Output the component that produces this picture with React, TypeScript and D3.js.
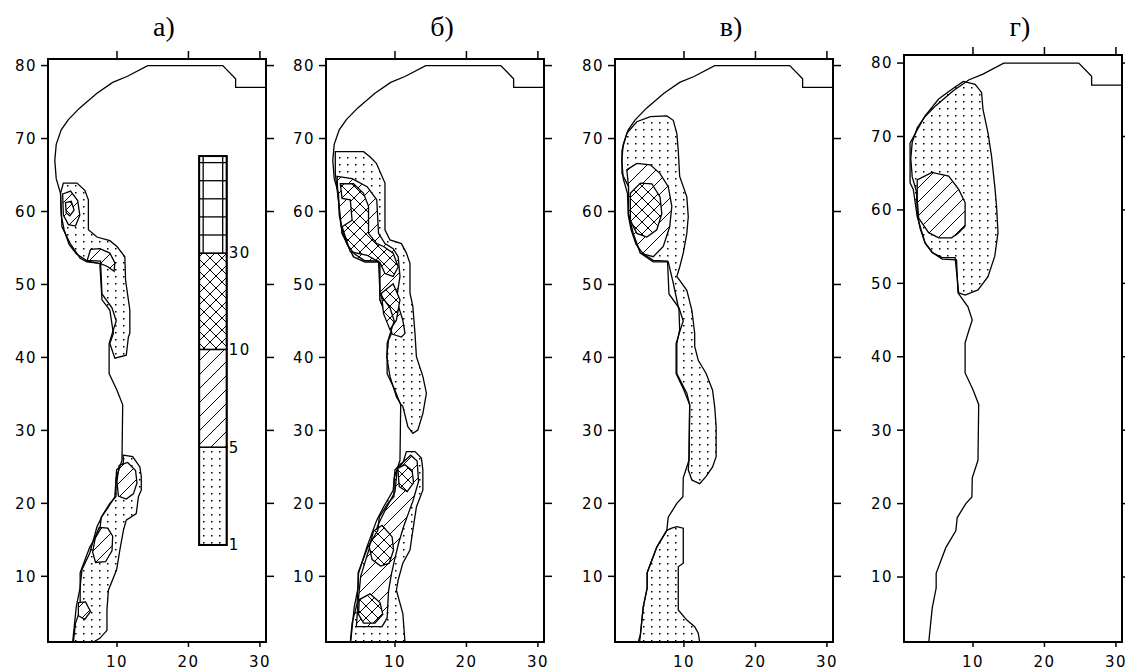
import React from "react";
import * as d3 from "d3";

type Pt = [number, number];

const X_TICKS = [10, 20, 30];
const Y_TICKS = [10, 20, 30, 40, 50, 60, 70, 80];
const PANEL_TITLES = ["а)", "б)", "в)", "г)"];
const LEGEND_LABELS = ["1", "5", "10", "30"];
const LEGEND_BOUNDS = [14.3, 27.7, 41.1, 54.3, 67.6];
const LEGEND_X: [number, number] = [21.5, 25.35];

// coastline, bottom -> top -> right edge
const COAST: Pt[] = [
  [3.8, 1], [4.3, 5.8], [4.85, 8.5], [4.85, 10.5], [6.2, 14], [7.6, 16.3], [7.8, 18.1], [9.0, 20],
  [9.85, 20.9], [9.9, 23.5], [10.7, 25.9], [10.8, 33.5], [10.0, 35.5], [8.9, 37.8], [8.9, 41.9],
  [9.4, 43.5], [9.9, 45], [9.3, 46.8], [7.9, 48.7], [7.7, 53.2], [5.7, 53.3], [4.3, 54.2], [3.3, 55.5],
  [2.6, 57.5], [2.2, 59.5], [2.1, 62.5], [1.5, 64.5], [1.3, 67], [1.5, 69.2], [2.2, 71.2], [3.2, 72.6],
  [4.8, 74.2], [7.2, 76.2], [9.4, 77.7], [11.4, 78.5], [14.3, 80], [24.8, 80], [26.6, 78.2],
  [26.6, 77], [30.85, 77],
];

// panel а
const A_DOTS: Pt[][] = [
  [[2.5, 63.9], [4.4, 63.9], [5.5, 62.9], [6.0, 61.6], [6.0, 57.5], [7.2, 56.5], [9.0, 56.0], [10.0, 55.2],
   [11.1, 53.8], [11.2, 50.6], [11.8, 46.5], [11.8, 43.3], [11.6, 42.8], [11.3, 40.3], [9.7, 39.9],
   [9.0, 41.9], [9.5, 43.3], [9.0, 46.5], [7.9, 47.9], [7.6, 52.9], [5.8, 53.1], [4.85, 53.6],
   [3.46, 55.6], [2.3, 57.9], [2.1, 62.5]],
  [[10.87, 26.6], [12.2, 26.4], [13.2, 25.0], [13.4, 23.7], [13.4, 21.8], [13.0, 20.9], [12.7, 18.6],
   [11.3, 17.7], [10.9, 16.3], [10.4, 13.6], [9.95, 10.9], [8.8, 8.1], [8.6, 5.4], [8.6, 2.6], [7.6, 1.5],
   [6.7, 1.0], [3.9, 1.0], [4.2, 3.6], [4.85, 5.4], [4.85, 8.6], [5.1, 10.9], [6.2, 13.2], [7.2, 16.8],
   [7.9, 18.2], [8.8, 19.5], [9.7, 20.9], [9.95, 24.6], [10.9, 25.5]],
];
const A_HATCH: Pt[][] = [
  [[2.4, 62.4], [3.5, 62.8], [4.5, 61.5], [4.8, 59.5], [4.2, 58.0], [3.2, 58.2], [2.5, 59.5]],
  [[5.8, 53.2], [6.3, 54.8], [7.6, 54.9], [9.0, 54.3], [9.7, 53.0], [9.6, 51.8], [8.6, 52.5], [7.6, 52.9]],
  [[10.3, 25.2], [11.5, 25.6], [12.6, 24.5], [12.8, 22.8], [12.3, 21.3], [11.3, 20.6], [10.2, 21.0], [10.0, 23.0]],
  [[7.5, 16.7], [8.7, 16.6], [9.4, 15.5], [9.3, 13.5], [8.4, 12.0], [7.0, 11.9], [6.6, 13.3], [7.0, 15.5]],
  [[4.6, 6.4], [5.6, 6.5], [6.3, 5.2], [5.5, 4.1], [4.6, 4.6]],
];
const A_CROSS: Pt[][] = [
  [[2.8, 61.2], [3.6, 61.4], [4.0, 60.2], [3.4, 59.4], [2.9, 59.8]],
];

// panel б
const B_DOTS: Pt[][] = [
  [[1.65, 68.2], [5.6, 68.2], [6.5, 67.5], [7.4, 66.6], [8.6, 63.9], [8.6, 57.5], [9.3, 56.1], [10.9, 55.6],
   [11.6, 54.3], [12.1, 52.9], [12.1, 48.8], [12.5, 47.0], [12.8, 43.3], [13.0, 40.1], [13.9, 37.4],
   [14.4, 35.1], [13.9, 32.3], [13.2, 30.05], [12.5, 29.6], [11.8, 30.5], [11.1, 33.3], [10.8, 33.6],
   [10.2, 34.6], [9.3, 37.4], [8.85, 40.1], [9.1, 42.4], [9.75, 43.8], [9.3, 44.5], [7.9, 47.9],
   [7.9, 53.1], [5.8, 53.1], [4.2, 53.8], [2.6, 57], [2.35, 59.3], [1.65, 65.2]],
  [[11.1, 25.5], [11.6, 27.1], [12.8, 27.1], [13.7, 26.2], [13.9, 24.6], [13.9, 21.8], [13.0, 19.5],
   [12.5, 16.3], [12.1, 13.6], [11.1, 11.8], [10.45, 9.5], [10.2, 8.1], [11.1, 4.9], [11.4, 1.0],
   [3.75, 1.0], [4.0, 3.6], [4.7, 6.3], [4.9, 10.4], [6.1, 14.1], [7.45, 17.7], [8.4, 19.5],
   [9.75, 21.8], [10.0, 24.6], [10.9, 25.5]],
];
const B_HATCH: Pt[][] = [
  [[1.9, 64.8], [4.0, 64.5], [6.1, 63.4], [7.45, 61.6], [7.7, 57.0], [8.6, 55.6], [9.75, 54.9],
   [10.45, 53.8], [10.7, 51.1], [10.2, 47.9], [11.1, 45.1], [11.4, 43.3], [10.9, 42.8], [9.6, 43.2],
   [9.3, 44.5], [7.9, 47.9], [7.9, 53.1], [5.8, 53.1], [4.2, 53.8], [2.6, 57], [2.35, 59.3], [2.0, 62.5]],
  [[11.1, 25.6], [12.2, 26.6], [13.1, 25.8], [13.3, 23.0], [12.5, 20.3], [11.9, 18.7], [11.2, 16.8],
   [10.5, 14.5], [10.0, 12.5], [9.5, 10.3], [9.1, 8.0], [8.9, 4.3], [8.2, 3.1], [4.6, 3.1], [4.8, 6.0],
   [5.2, 10.0], [6.4, 13.8], [7.7, 17.2], [8.7, 19.2], [10.0, 21.6], [10.3, 24.5]],
];
const B_CROSS: Pt[][] = [
  [[2.35, 63.8], [4.2, 63.8], [5.6, 62.5], [6.3, 60.7], [6.3, 57.0], [7.45, 55.6], [8.4, 55.2],
   [9.75, 54.3], [10.45, 52.4], [9.75, 51.1], [8.6, 51.5], [7.9, 53.0], [6.1, 54.0], [3.75, 54.5],
   [2.6, 57.9], [4.0, 58.8], [3.75, 61.6], [2.6, 61.8]],
  [[8.1, 48.8], [9.75, 50.1], [10.7, 47.9], [10.2, 45.1], [9.3, 43.8], [8.4, 46.0]],
  [[10.4, 24.8], [11.4, 25.3], [12.4, 24.5], [12.6, 22.8], [11.7, 21.6], [10.6, 22.3]],
  [[7.0, 16.2], [8.2, 17.0], [9.6, 15.4], [9.8, 13.6], [9.2, 11.8], [8.0, 11.4], [6.8, 12.3], [6.4, 14.0]],
  [[5.0, 6.8], [6.5, 7.6], [7.9, 6.4], [8.3, 4.8], [7.2, 3.6], [5.6, 3.6], [4.9, 4.8]],
];

// panel в
const V_DOTS: Pt[][] = [
  [[1.33, 68.4], [2.0, 70.7], [3.4, 72.3], [5.3, 73.0], [7.6, 73.1], [8.5, 72.5], [9.0, 70.7], [9.2, 68.4],
   [9.4, 64.8], [10.4, 62.0], [10.6, 59.3], [10.4, 57.0], [9.9, 54.3], [9.4, 52.4], [9.0, 51.1],
   [10.4, 49.2], [11.1, 46.5], [11.5, 43.3], [11.5, 41.5], [12.0, 39.6], [13.1, 37.8], [14.0, 35.5],
   [14.3, 33.2], [14.5, 30.5], [14.5, 26.4], [14.0, 25.0], [13.1, 23.7], [12.2, 22.7], [11.1, 23.2],
   [10.6, 24.6], [10.7, 25.9], [10.8, 33.5], [10.4, 35.1], [9.0, 37.8], [9.0, 41.9], [9.4, 43.8],
   [9.3, 46.5], [8.5, 50.2], [7.8, 53.1], [5.7, 53.1], [3.9, 54.3], [2.9, 57], [2.25, 59.7],
   [2.25, 63.4], [1.33, 65.2]],
  [[8.3, 16.6], [9.0, 16.8], [9.9, 16.6], [9.9, 11.8], [9.2, 11.3], [9.2, 5.4], [10.4, 4.0], [11.5, 3.1],
   [12.0, 2.2], [12.2, 1.0], [3.6, 1.0], [3.9, 2.0], [4.3, 5.8], [4.85, 8.3], [4.85, 10.5], [6.2, 14.0],
   [7.6, 16.3]],
];
const V_HATCH: Pt[][] = [
  [[2.0, 65.7], [3.4, 66.6], [5.3, 66.4], [6.65, 65.2], [7.8, 63.4], [8.3, 60.7], [8.0, 57.9], [7.1, 55.2],
   [5.7, 53.8], [3.9, 54.3], [2.9, 57], [2.25, 59.7], [2.25, 63.4]],
];
const V_CROSS: Pt[][] = [
  [[2.5, 62.5], [3.9, 63.9], [5.5, 63.8], [6.65, 62.0], [6.9, 59.7], [6.2, 57.5], [4.8, 56.5], [3.4, 57.0],
   [2.5, 58.8]],
];

// panel г
const G_DOTS: Pt[][] = [
  [[8.0, 48.7], [8.9, 48.4], [10.7, 49.1], [12.1, 50.9], [13.05, 53.7], [13.5, 56.9], [13.3, 60.5],
   [13.05, 63.2], [12.6, 67.3], [12.1, 70.5], [11.4, 73.7], [11.2, 76.0], [10.3, 77.1], [8.65, 77.5],
   [7.0, 76.4], [5.2, 75.1], [3.3, 72.8], [2.2, 70.9], [1.2, 69.1], [1.2, 63.7], [1.65, 62.8], [2.2, 59.1],
   [3.3, 55.5], [4.3, 54.2], [5.7, 53.5], [7.5, 53.5]],
];
const G_HATCH: Pt[][] = [
  [[2.2, 64.1], [4.25, 65.1], [6.6, 64.6], [8.0, 62.8], [8.9, 61.0], [8.9, 57.8], [8.0, 56.9], [7.0, 56.2],
   [5.2, 56.2], [3.8, 56.9], [2.4, 58.9], [2.2, 61.5]],
];

const PANELS = [
  { left: 48, top: 59, yDomain: [1, 80.9], dots: A_DOTS, hatch: A_HATCH, cross: A_CROSS, legend: true },
  { left: 326, top: 59, yDomain: [1, 80.9], dots: B_DOTS, hatch: B_HATCH, cross: B_CROSS, legend: false },
  { left: 615, top: 59, yDomain: [1, 80.9], dots: V_DOTS, hatch: V_HATCH, cross: V_CROSS, legend: false },
  { left: 904, top: 55, yDomain: [1.15, 81.1], dots: G_DOTS, hatch: G_HATCH, cross: [] as Pt[][], legend: false },
];

const FRAME_W = 218;
const BOTTOM = 642;
const X_DOMAIN: [number, number] = [0.35, 30.85];
const TICK_FONT = "'DejaVu Sans', sans-serif";
const TICK_SIZE = 15;

function Panel({ p, i }: { p: (typeof PANELS)[number]; i: number }) {
  const x = d3.scaleLinear().domain(X_DOMAIN).range([p.left, p.left + FRAME_W]);
  const y = d3.scaleLinear().domain(p.yDomain).range([BOTTOM, p.top]);
  const line = d3.line<Pt>().x((d) => x(d[0])).y((d) => y(d[1]));
  const poly = (pts: Pt[]) => line(pts) + "Z";
  const right = p.left + FRAME_W;
  const clip = `clip-${i}`;

  const legend = () => {
    const [x0, x1] = LEGEND_X;
    const fills = ["url(#dots)", "url(#hatch)", "url(#cross)", "#fff"];
    const gTop = LEGEND_BOUNDS[4];
    const gBot = LEGEND_BOUNDS[3];
    const rows = d3.range(1, 5).map((k) => gBot + ((gTop - 0.9 - gBot) * k) / 5);
    return (
      <g>
        {fills.map((f, k) => (
          <rect key={k} x={x(x0)} y={y(LEGEND_BOUNDS[k + 1])} width={x(x1) - x(x0)}
            height={y(LEGEND_BOUNDS[k]) - y(LEGEND_BOUNDS[k + 1])} fill={f} stroke="#000" strokeWidth={1.5} />
        ))}
        {[...rows, gTop - 0.9].map((v, k) => (
          <line key={"h" + k} x1={x(x0)} x2={x(x1)} y1={y(v)} y2={y(v)} stroke="#000" strokeWidth={1.3} />
        ))}
        {[x0 + 0.56, x1 - 0.56].map((v, k) => (
          <line key={"v" + k} x1={x(v)} x2={x(v)} y1={y(gTop)} y2={y(gBot)} stroke="#000" strokeWidth={1.3} />
        ))}
        <rect x={x(x0)} y={y(LEGEND_BOUNDS[4])} width={x(x1) - x(x0)}
          height={y(LEGEND_BOUNDS[0]) - y(LEGEND_BOUNDS[4])} fill="none" stroke="#000" strokeWidth={2} />
        {LEGEND_LABELS.map((t, k) => (
          <text key={t} x={x(x1) + 2} y={y(LEGEND_BOUNDS[k])} dy="0.36em" fontFamily={TICK_FONT}
            fontSize={TICK_SIZE} letterSpacing={1.5}>{t}</text>
        ))}
      </g>
    );
  };

  return (
    <g>
      <clipPath id={clip}>
        <rect x={p.left} y={p.top} width={FRAME_W} height={BOTTOM - p.top} />
      </clipPath>
      <g clipPath={`url(#${clip})`}>
        {p.dots.map((d, k) => (
          <path key={"d" + k} d={poly(d)} fill="url(#dots)" stroke="#000" strokeWidth={1.3} />
        ))}
        {p.hatch.map((d, k) => (
          <path key={"h" + k} d={poly(d)} fill="url(#hatch)" stroke="#000" strokeWidth={1.3} />
        ))}
        {p.cross.map((d, k) => (
          <path key={"c" + k} d={poly(d)} fill="url(#cross)" stroke="#000" strokeWidth={1.3} />
        ))}
        <path d={line(COAST) || ""} fill="none" stroke="#000" strokeWidth={1.3} />
      </g>
      {p.legend && legend()}
      <rect x={p.left} y={p.top} width={FRAME_W} height={BOTTOM - p.top} fill="none" stroke="#000" strokeWidth={2} />
      {Y_TICKS.map((t) => (
        <g key={"y" + t}>
          <line x1={p.left - 7} x2={p.left} y1={y(t)} y2={y(t)} stroke="#000" strokeWidth={1.5} />
          <line x1={right} x2={right + 8} y1={y(t)} y2={y(t)} stroke="#000" strokeWidth={1.5} />
          <text x={p.left - 11} y={y(t)} dy="0.36em" textAnchor="end" fontFamily={TICK_FONT}
            fontSize={TICK_SIZE} letterSpacing={1.5}>{t}</text>
        </g>
      ))}
      {X_TICKS.map((t) => (
        <g key={"x" + t}>
          <line x1={x(t)} x2={x(t)} y1={p.top - 8} y2={p.top} stroke="#000" strokeWidth={1.5} />
          <line x1={x(t)} x2={x(t)} y1={BOTTOM} y2={BOTTOM + 5} stroke="#000" strokeWidth={1.5} />
          <text x={x(t)} y={667} textAnchor="middle" fontFamily={TICK_FONT}
            fontSize={TICK_SIZE} letterSpacing={1.5}>{t}</text>
        </g>
      ))}
      <text x={p.left + FRAME_W / 2 + 7} y={36} textAnchor="middle" fontFamily="'Liberation Serif', serif"
        fontSize={28}>{PANEL_TITLES[i]}</text>
    </g>
  );
}

export default function App() {
  return (
    <svg width={1125} height={672} style={{ position: "absolute", left: 0, top: 0, background: "#fff" }}>
      <defs>
        <pattern id="dots" patternUnits="userSpaceOnUse" width={8} height={7}>
          <rect width={8} height={7} fill="#fff" />
          <rect x={3} y={3} width={1.5} height={1.5} fill="#000" />
        </pattern>
        <pattern id="hatch" patternUnits="userSpaceOnUse" width={14} height={14}>
          <rect width={14} height={14} fill="#fff" />
          <path d="M0,14L14,0M-3,3L3,-3M11,17L17,11" stroke="#000" strokeWidth={1} />
        </pattern>
        <pattern id="cross" patternUnits="userSpaceOnUse" width={12} height={12}>
          <rect width={12} height={12} fill="#fff" />
          <path d="M0,0L12,12M12,0L0,12" stroke="#000" strokeWidth={1} />
        </pattern>
      </defs>
      <rect width={1125} height={672} fill="#fff" />
      {PANELS.map((p, i) => (
        <Panel key={i} p={p} i={i} />
      ))}
    </svg>
  );
}
